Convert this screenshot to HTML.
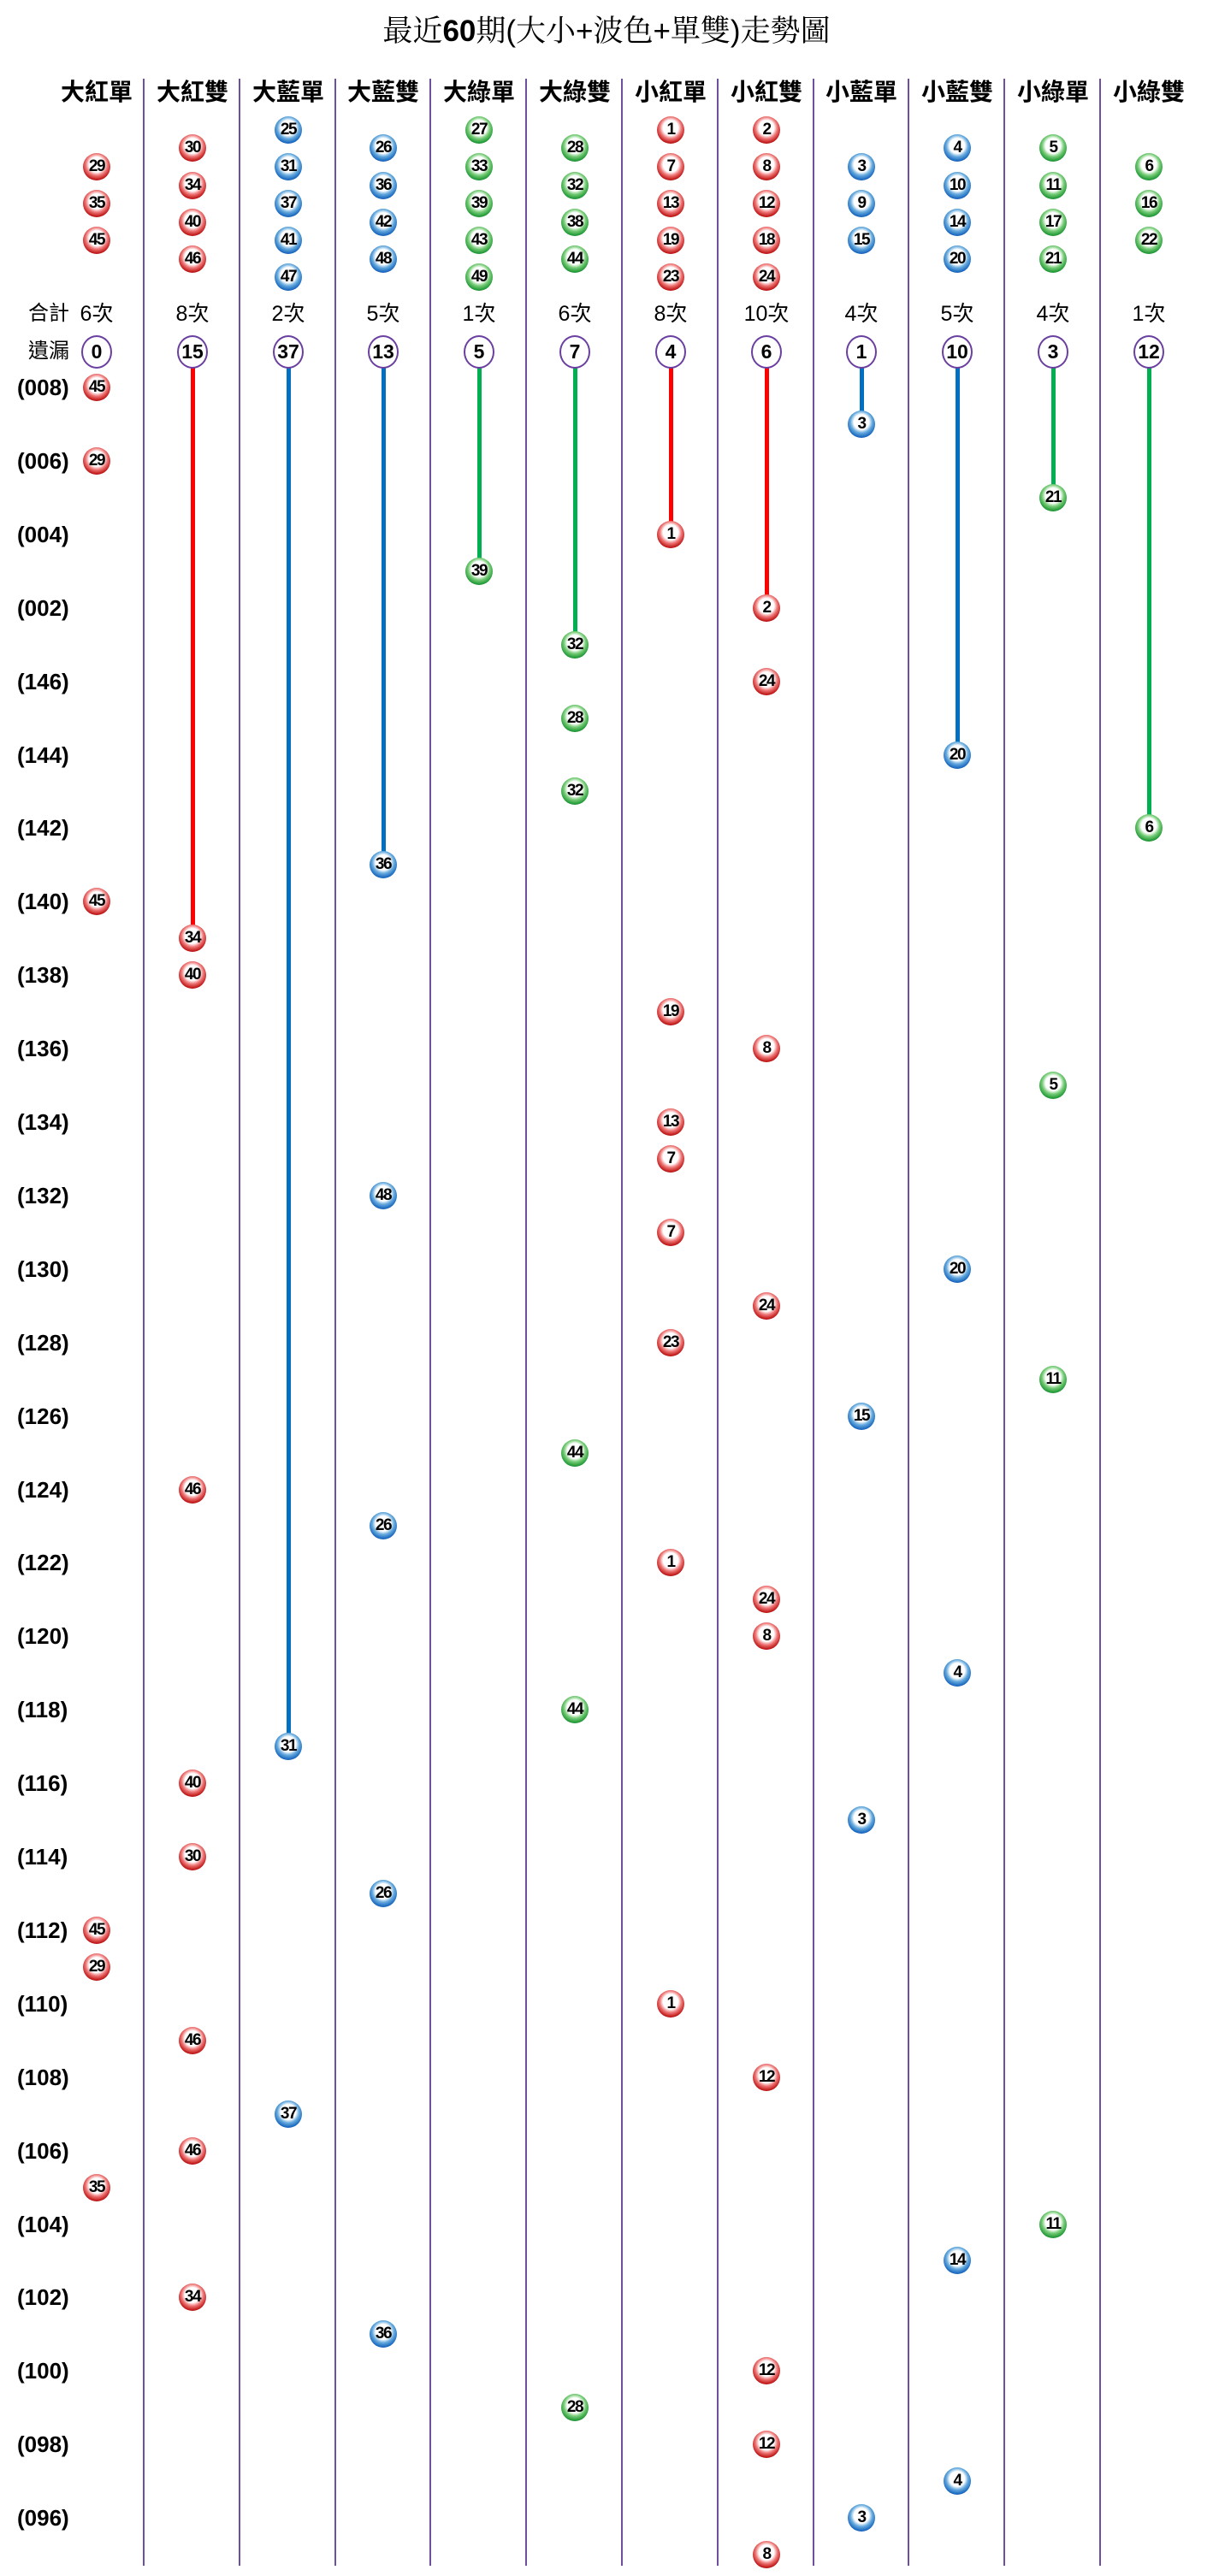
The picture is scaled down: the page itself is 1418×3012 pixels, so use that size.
<!DOCTYPE html>
<html><head><meta charset="utf-8">
<style>
html,body{margin:0;padding:0;background:#fff;}
body{width:1418px;height:3012px;position:relative;overflow:hidden;font-family:"Liberation Sans","Noto Sans CJK TC",sans-serif;}
.t{position:absolute;left:0;width:1418px;top:14px;text-align:center;font-size:35px;line-height:46px;color:#000;font-family:"Liberation Sans","Noto Serif CJK SC",serif;}
.t b{font-family:"Liberation Sans",sans-serif;}
.h{position:absolute;top:90px;width:112px;margin-left:-56px;text-align:center;font-size:28px;line-height:36px;font-weight:bold;}
.s{position:absolute;top:92px;height:2908px;width:2px;background:#6f4fa0;}
.c{position:absolute;top:352px;width:112px;margin-left:-56px;text-align:center;font-size:25px;line-height:30px;}
.lbl{position:absolute;font-size:24px;line-height:30px;}
.m{position:absolute;top:392px;width:32px;height:35px;margin-left:-18px;border:2px solid #6a3fa0;border-radius:50%;text-align:center;font-weight:bold;font-size:23px;line-height:35px;background:#fff;}
.ln{position:absolute;width:5px;margin-left:-2px;top:428px;}
.R{background:#ff0000}.B{background:#0070c0}.G{background:#00b050}
.b{position:absolute;width:32px;height:32px;margin:-16px 0 0 -16px;border-radius:50%;text-align:center;font-weight:bold;font-size:19px;line-height:32px;letter-spacing:-1.5px;color:#000;}
.b.r{background:radial-gradient(circle at 50% 42%,#fff 0,#fff 36%,#e77 52%,#c01818 72%,#7a0a0a 100%);}
.b.u{background:radial-gradient(circle at 50% 42%,#fff 0,#fff 36%,#6ad 52%,#1a68c0 72%,#08356e 100%);}
.b.g{background:radial-gradient(circle at 50% 42%,#fff 0,#fff 36%,#7c7 52%,#229a38 72%,#0e5318 100%);}
.rl{position:absolute;left:20px;width:72px;font-weight:bold;font-size:26px;line-height:30px;margin-top:-15px;}
</style></head><body>
<div class="t">最近<b>60</b>期(大小+波色+單雙)走勢圖</div>

<div class="s" style="left:167px"></div><div class="s" style="left:279px"></div><div class="s" style="left:391px"></div><div class="s" style="left:502px"></div><div class="s" style="left:614px"></div><div class="s" style="left:726px"></div><div class="s" style="left:838px"></div><div class="s" style="left:950px"></div><div class="s" style="left:1061px"></div><div class="s" style="left:1173px"></div><div class="s" style="left:1285px"></div>

<div class="h" style="left:113px">大紅單</div><div class="h" style="left:225px">大紅雙</div><div class="h" style="left:337px">大藍單</div><div class="h" style="left:448px">大藍雙</div><div class="h" style="left:560px">大綠單</div><div class="h" style="left:672px">大綠雙</div><div class="h" style="left:784px">小紅單</div><div class="h" style="left:896px">小紅雙</div><div class="h" style="left:1007px">小藍單</div><div class="h" style="left:1119px">小藍雙</div><div class="h" style="left:1231px">小綠單</div><div class="h" style="left:1343px">小綠雙</div>

<div class="b r" style="left:113px;top:195px">29</div><div class="b r" style="left:113px;top:238px">35</div><div class="b r" style="left:113px;top:281px">45</div>
<div class="b r" style="left:225px;top:173px">30</div><div class="b r" style="left:225px;top:217px">34</div><div class="b r" style="left:225px;top:260px">40</div><div class="b r" style="left:225px;top:303px">46</div>
<div class="b u" style="left:337px;top:152px">25</div><div class="b u" style="left:337px;top:195px">31</div><div class="b u" style="left:337px;top:238px">37</div><div class="b u" style="left:337px;top:281px">41</div><div class="b u" style="left:337px;top:324px">47</div>
<div class="b u" style="left:448px;top:173px">26</div><div class="b u" style="left:448px;top:217px">36</div><div class="b u" style="left:448px;top:260px">42</div><div class="b u" style="left:448px;top:303px">48</div>
<div class="b g" style="left:560px;top:152px">27</div><div class="b g" style="left:560px;top:195px">33</div><div class="b g" style="left:560px;top:238px">39</div><div class="b g" style="left:560px;top:281px">43</div><div class="b g" style="left:560px;top:324px">49</div>
<div class="b g" style="left:672px;top:173px">28</div><div class="b g" style="left:672px;top:217px">32</div><div class="b g" style="left:672px;top:260px">38</div><div class="b g" style="left:672px;top:303px">44</div>
<div class="b r" style="left:784px;top:152px">1</div><div class="b r" style="left:784px;top:195px">7</div><div class="b r" style="left:784px;top:238px">13</div><div class="b r" style="left:784px;top:281px">19</div><div class="b r" style="left:784px;top:324px">23</div>
<div class="b r" style="left:896px;top:152px">2</div><div class="b r" style="left:896px;top:195px">8</div><div class="b r" style="left:896px;top:238px">12</div><div class="b r" style="left:896px;top:281px">18</div><div class="b r" style="left:896px;top:324px">24</div>
<div class="b u" style="left:1007px;top:195px">3</div><div class="b u" style="left:1007px;top:238px">9</div><div class="b u" style="left:1007px;top:281px">15</div>
<div class="b u" style="left:1119px;top:173px">4</div><div class="b u" style="left:1119px;top:217px">10</div><div class="b u" style="left:1119px;top:260px">14</div><div class="b u" style="left:1119px;top:303px">20</div>
<div class="b g" style="left:1231px;top:173px">5</div><div class="b g" style="left:1231px;top:217px">11</div><div class="b g" style="left:1231px;top:260px">17</div><div class="b g" style="left:1231px;top:303px">21</div>
<div class="b g" style="left:1343px;top:195px">6</div><div class="b g" style="left:1343px;top:238px">16</div><div class="b g" style="left:1343px;top:281px">22</div>

<div class="lbl" style="left:33px;top:352px">合計</div>
<div class="c" style="left:113px">6次</div><div class="c" style="left:225px">8次</div><div class="c" style="left:337px">2次</div><div class="c" style="left:448px">5次</div><div class="c" style="left:560px">1次</div><div class="c" style="left:672px">6次</div><div class="c" style="left:784px">8次</div><div class="c" style="left:896px">10次</div><div class="c" style="left:1007px">4次</div><div class="c" style="left:1119px">5次</div><div class="c" style="left:1231px">4次</div><div class="c" style="left:1343px">1次</div>

<div class="ln R" style="left:225px;height:669px"></div>
<div class="ln B" style="left:337px;height:1614px"></div>
<div class="ln B" style="left:448px;height:583px"></div>
<div class="ln G" style="left:560px;height:240px"></div>
<div class="ln G" style="left:672px;height:326px"></div>
<div class="ln R" style="left:784px;height:197px"></div>
<div class="ln R" style="left:896px;height:283px"></div>
<div class="ln B" style="left:1007px;height:68px"></div>
<div class="ln B" style="left:1119px;height:455px"></div>
<div class="ln G" style="left:1231px;height:154px"></div>
<div class="ln G" style="left:1343px;height:540px"></div>

<div class="lbl" style="left:33px;top:396px">遺漏</div>
<div class="m" style="left:113px">0</div><div class="m" style="left:225px">15</div><div class="m" style="left:337px">37</div><div class="m" style="left:448px">13</div><div class="m" style="left:560px">5</div><div class="m" style="left:672px">7</div><div class="m" style="left:784px">4</div><div class="m" style="left:896px">6</div><div class="m" style="left:1007px">1</div><div class="m" style="left:1119px">10</div><div class="m" style="left:1231px">3</div><div class="m" style="left:1343px">12</div>

<div class="rl" style="top:453px">(008)</div><div class="rl" style="top:539px">(006)</div><div class="rl" style="top:625px">(004)</div><div class="rl" style="top:711px">(002)</div><div class="rl" style="top:797px">(146)</div><div class="rl" style="top:883px">(144)</div><div class="rl" style="top:968px">(142)</div><div class="rl" style="top:1054px">(140)</div><div class="rl" style="top:1140px">(138)</div><div class="rl" style="top:1226px">(136)</div><div class="rl" style="top:1312px">(134)</div><div class="rl" style="top:1398px">(132)</div><div class="rl" style="top:1484px">(130)</div><div class="rl" style="top:1570px">(128)</div><div class="rl" style="top:1656px">(126)</div><div class="rl" style="top:1742px">(124)</div><div class="rl" style="top:1827px">(122)</div><div class="rl" style="top:1913px">(120)</div><div class="rl" style="top:1999px">(118)</div><div class="rl" style="top:2085px">(116)</div><div class="rl" style="top:2171px">(114)</div><div class="rl" style="top:2257px">(112)</div><div class="rl" style="top:2343px">(110)</div><div class="rl" style="top:2429px">(108)</div><div class="rl" style="top:2515px">(106)</div><div class="rl" style="top:2601px">(104)</div><div class="rl" style="top:2686px">(102)</div><div class="rl" style="top:2772px">(100)</div><div class="rl" style="top:2858px">(098)</div><div class="rl" style="top:2944px">(096)</div>

<div class="b r" style="left:113px;top:453px">45</div>
<div class="b r" style="left:113px;top:539px">29</div>
<div class="b r" style="left:113px;top:1054px">45</div>
<div class="b r" style="left:113px;top:2257px">45</div>
<div class="b r" style="left:113px;top:2300px">29</div>
<div class="b r" style="left:113px;top:2558px">35</div>

<div class="b r" style="left:225px;top:1097px">34</div>
<div class="b r" style="left:225px;top:1140px">40</div>
<div class="b r" style="left:225px;top:1742px">46</div>
<div class="b r" style="left:225px;top:2085px">40</div>
<div class="b r" style="left:225px;top:2171px">30</div>
<div class="b r" style="left:225px;top:2386px">46</div>
<div class="b r" style="left:225px;top:2515px">46</div>
<div class="b r" style="left:225px;top:2686px">34</div>

<div class="b u" style="left:337px;top:2042px">31</div>
<div class="b u" style="left:337px;top:2472px">37</div>

<div class="b u" style="left:448px;top:1011px">36</div>
<div class="b u" style="left:448px;top:1398px">48</div>
<div class="b u" style="left:448px;top:1784px">26</div>
<div class="b u" style="left:448px;top:2214px">26</div>
<div class="b u" style="left:448px;top:2729px">36</div>

<div class="b g" style="left:560px;top:668px">39</div>

<div class="b g" style="left:672px;top:754px">32</div>
<div class="b g" style="left:672px;top:840px">28</div>
<div class="b g" style="left:672px;top:925px">32</div>
<div class="b g" style="left:672px;top:1699px">44</div>
<div class="b g" style="left:672px;top:1999px">44</div>
<div class="b g" style="left:672px;top:2815px">28</div>

<div class="b r" style="left:784px;top:625px">1</div>
<div class="b r" style="left:784px;top:1183px">19</div>
<div class="b r" style="left:784px;top:1312px">13</div>
<div class="b r" style="left:784px;top:1355px">7</div>
<div class="b r" style="left:784px;top:1441px">7</div>
<div class="b r" style="left:784px;top:1570px">23</div>
<div class="b r" style="left:784px;top:1827px">1</div>
<div class="b r" style="left:784px;top:2343px">1</div>

<div class="b r" style="left:896px;top:711px">2</div>
<div class="b r" style="left:896px;top:797px">24</div>
<div class="b r" style="left:896px;top:1226px">8</div>
<div class="b r" style="left:896px;top:1527px">24</div>
<div class="b r" style="left:896px;top:1870px">24</div>
<div class="b r" style="left:896px;top:1913px">8</div>
<div class="b r" style="left:896px;top:2429px">12</div>
<div class="b r" style="left:896px;top:2772px">12</div>
<div class="b r" style="left:896px;top:2858px">12</div>
<div class="b r" style="left:896px;top:2987px">8</div>

<div class="b u" style="left:1007px;top:496px">3</div>
<div class="b u" style="left:1007px;top:1656px">15</div>
<div class="b u" style="left:1007px;top:2128px">3</div>
<div class="b u" style="left:1007px;top:2944px">3</div>

<div class="b u" style="left:1119px;top:883px">20</div>
<div class="b u" style="left:1119px;top:1484px">20</div>
<div class="b u" style="left:1119px;top:1956px">4</div>
<div class="b u" style="left:1119px;top:2643px">14</div>
<div class="b u" style="left:1119px;top:2901px">4</div>

<div class="b g" style="left:1231px;top:582px">21</div>
<div class="b g" style="left:1231px;top:1269px">5</div>
<div class="b g" style="left:1231px;top:1613px">11</div>
<div class="b g" style="left:1231px;top:2601px">11</div>

<div class="b g" style="left:1343px;top:968px">6</div>
</body></html>
